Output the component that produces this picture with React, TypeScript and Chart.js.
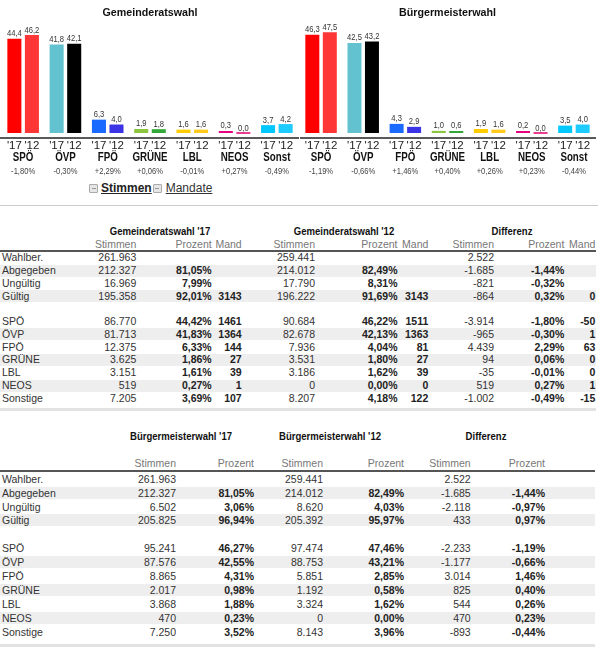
import React, { useEffect, useRef } from "react";
import { Chart, registerables } from "chart.js";

Chart.register(...registerables);

// ---------- chart data ----------
const parties = ["SPÖ", "ÖVP", "FPÖ", "GRÜNE", "LBL", "NEOS", "Sonst"];
const yearLabels = ["'17", "'12"];
const grTitle = "Gemeinderatswahl";
const bmTitle = "Bürgermeisterwahl";
const gr17 = [44.4, 41.8, 6.3, 1.9, 1.6, 0.3, 3.7];
const gr12 = [46.2, 42.1, 4.0, 1.8, 1.6, 0.0, 4.2];
const grDiff = ["-1,80%", "-0,30%", "+2,29%", "+0,06%", "-0,01%", "+0,27%", "-0,49%"];
const bm17 = [46.3, 42.5, 4.3, 1.0, 1.9, 0.2, 3.5];
const bm12 = [47.5, 43.2, 2.9, 0.6, 1.6, 0.0, 4.0];
const bmDiff = ["-1,19%", "-0,66%", "+1,46%", "+0,40%", "+0,26%", "+0,23%", "-0,44%"];
const colors17 = ["#ff0000", "#63c2cf", "#1a6aff", "#8cc63f", "#ffcc00", "#e6007e", "#00c8ff"];
const colors12 = ["#ff3636", "#000000", "#3a34e6", "#31a838", "#ffc91e", "#ea3d92", "#1ecbff"];

// ---------- table data ----------
const rowLabels = ["Wahlber.", "Abgegeben", "Ungültig", "Gültig"];
const partyRows = ["SPÖ", "ÖVP", "FPÖ", "GRÜNE", "LBL", "NEOS", "Sonstige"];
const subStimmen = "Stimmen";
const subProzent = "Prozent";
const subMand = "Mand";
const linkStimmen = "Stimmen";
const linkMandate = "Mandate";

const t1Headers = ["Gemeinderatswahl '17", "Gemeinderatswahl '12", "Differenz"];
const gr17Stimmen = ["261.963", "212.327", "16.969", "195.358", "86.770", "81.713", "12.375", "3.625", "3.151", "519", "7.205"];
const gr17Prozent = ["", "81,05%", "7,99%", "92,01%", "44,42%", "41,83%", "6,33%", "1,86%", "1,61%", "0,27%", "3,69%"];
const gr17Mand = ["", "", "", "3143", "1461", "1364", "144", "27", "39", "1", "107"];
const gr12Stimmen = ["259.441", "214.012", "17.790", "196.222", "90.684", "82.678", "7.936", "3.531", "3.186", "0", "8.207"];
const gr12Prozent = ["", "82,49%", "8,31%", "91,69%", "46,22%", "42,13%", "4,04%", "1,80%", "1,62%", "0,00%", "4,18%"];
const gr12Mand = ["", "", "", "3143", "1511", "1363", "81", "27", "39", "0", "122"];
const grDiffStimmen = ["2.522", "-1.685", "-821", "-864", "-3.914", "-965", "4.439", "94", "-35", "519", "-1.002"];
const grDiffProzent = ["", "-1,44%", "-0,32%", "0,32%", "-1,80%", "-0,30%", "2,29%", "0,06%", "-0,01%", "0,27%", "-0,49%"];
const grDiffMand = ["", "", "", "0", "-50", "1", "63", "0", "0", "1", "-15"];

const t2Headers = ["Bürgermeisterwahl '17", "Bürgermeisterwahl '12", "Differenz"];
const bm17Stimmen = ["261.963", "212.327", "6.502", "205.825", "95.241", "87.576", "8.865", "2.017", "3.868", "470", "7.250"];
const bm17Prozent = ["", "81,05%", "3,06%", "96,94%", "46,27%", "42,55%", "4,31%", "0,98%", "1,88%", "0,23%", "3,52%"];
const bm12Stimmen = ["259.441", "214.012", "8.620", "205.392", "97.474", "88.753", "5.851", "1.192", "3.324", "0", "8.143"];
const bm12Prozent = ["", "82,49%", "4,03%", "95,97%", "47,46%", "43,21%", "2,85%", "0,58%", "1,62%", "0,00%", "3,96%"];
const bmDiffStimmen = ["2.522", "-1.685", "-2.118", "433", "-2.233", "-1.177", "3.014", "825", "544", "470", "-893"];
const bmDiffProzent = ["", "-1,44%", "-0,97%", "0,97%", "-1,19%", "-0,66%", "1,46%", "0,40%", "0,26%", "0,23%", "-0,44%"];

const FONT = "'Liberation Sans', Arial, sans-serif";

function drawText(ctx: CanvasRenderingContext2D, text: string, x: number, y: number, font: string, color: string, sx: number, baseline: CanvasTextBaseline = "middle") {
  ctx.save();
  ctx.font = font;
  ctx.fillStyle = color;
  ctx.textAlign = "center";
  ctx.textBaseline = baseline;
  ctx.translate(x, y);
  ctx.scale(sx, 1);
  ctx.fillText(text, 0, 0);
  ctx.restore();
}

function makeLabelPlugin(title: string, diffs: string[]) {
  return {
    id: "panelLabels",
    afterDatasetsDraw(chart: any) {
      const ctx: CanvasRenderingContext2D = chart.ctx;
      const area = chart.chartArea;
      const bottom = area.bottom;
      drawText(ctx, title, (area.left + area.right) / 2, 12.5, `bold 11.5px ${FONT}`, "#111", 0.93);
      ctx.save();
      ctx.strokeStyle = "#222";
      ctx.lineWidth = 1.5;
      ctx.beginPath();
      ctx.moveTo(area.left - 2, bottom);
      ctx.lineTo(area.right + 1, bottom);
      ctx.stroke();
      ctx.restore();
      chart.data.datasets.forEach((ds: any, di: number) => {
        const meta = chart.getDatasetMeta(di);
        meta.data.forEach((bar: any, i: number) => {
          const v = ds.data[i] as number;
          drawText(ctx, v.toFixed(1).replace(".", ","), bar.x, bar.y - 2.5, `9.5px ${FONT}`, "#333", 0.8, "alphabetic");
          drawText(ctx, yearLabels[di], bar.x, bottom + 8, `11.5px ${FONT}`, "#222", 1);
        });
      });
      const m0 = chart.getDatasetMeta(0).data;
      const m1 = chart.getDatasetMeta(1).data;
      parties.forEach((p, i) => {
        const cx = (m0[i].x + m1[i].x) / 2;
        drawText(ctx, p, cx, bottom + 20, `bold 12.5px ${FONT}`, "#111", 0.78);
        drawText(ctx, diffs[i], cx, bottom + 33, `9.5px ${FONT}`, "#444", 0.8);
      });
    },
  };
}

function BarPanel(props: { title: string; v17: number[]; v12: number[]; diffs: string[]; left: number; padL: number; padR: number }) {
  const ref = useRef<HTMLCanvasElement>(null);
  useEffect(() => {
    const chart = new Chart(ref.current as HTMLCanvasElement, {
      type: "bar",
      data: {
        labels: parties,
        datasets: [
          { label: yearLabels[0], data: props.v17, backgroundColor: colors17, categoryPercentage: 0.83, barPercentage: 0.8, minBarLength: 2 },
          { label: yearLabels[1], data: props.v12, backgroundColor: colors12, categoryPercentage: 0.83, barPercentage: 0.8, minBarLength: 2 },
        ],
      },
      options: {
        responsive: false,
        animation: false,
        devicePixelRatio: 1,
        layout: { padding: { top: 27, bottom: 42, left: props.padL, right: props.padR } },
        plugins: { legend: { display: false }, tooltip: { enabled: false }, title: { display: false } },
        scales: {
          x: { display: false },
          y: { display: false, min: -2.36, max: 50 },
        },
      },
      plugins: [makeLabelPlugin(props.title, props.diffs)],
    } as any);
    return () => chart.destroy();
  }, []);
  return (
    <canvas
      ref={ref}
      width={300}
      height={180}
      style={{ position: "absolute", left: props.left, top: 0, width: 300, height: 180 }}
    />
  );
}

type TP = { x: number; y: number; align?: "left" | "right" | "center"; bold?: boolean; color?: string; size?: number; sx?: number; underline?: boolean; children: React.ReactNode };
function T({ x, y, align = "right", bold = false, color = "#333", size = 10.5, sx = 1, underline = false, children }: TP) {
  const style: React.CSSProperties = {
    position: "absolute",
    top: y - 7,
    height: 14,
    lineHeight: "14px",
    fontSize: size,
    fontWeight: bold ? "bold" : "normal",
    color,
    fontFamily: FONT,
    whiteSpace: "nowrap",
    textDecoration: underline ? "underline" : "none",
  };
  if (align === "right") {
    style.right = 600 - x;
    if (sx !== 1) { style.transform = `scaleX(${sx})`; style.transformOrigin = "right center"; }
  } else if (align === "left") {
    style.left = x;
    if (sx !== 1) { style.transform = `scaleX(${sx})`; style.transformOrigin = "left center"; }
  } else {
    style.left = x;
    style.transform = `translateX(-50%) scaleX(${sx})`;
  }
  return <div style={style}>{children}</div>;
}

function Box({ x, y, w, h, bg }: { x: number; y: number; w: number; h: number; bg: string }) {
  return <div style={{ position: "absolute", left: x, top: y, width: w, height: h, background: bg }} />;
}

const shaded = [false, true, false, true, false, true, false, true, false, true, false];

function rowYs(start: number, pitch: number, partyStart: number, partyPitch: number) {
  const ys: number[] = [];
  for (let i = 0; i < rowLabels.length; i++) ys.push(start + i * pitch);
  for (let j = 0; j < partyRows.length; j++) ys.push(partyStart + j * partyPitch);
  return ys;
}

function Table(props: {
  headers: string[]; headerX: number[]; headerY: number;
  subs: string[]; subY: number;
  cols: string[][]; rights: number[]; bolds: boolean[];
  ys: number[]; bandOff: number; bandH: number; lineY: number; bottomY: number; width: number;
}) {
  const labels = [...rowLabels, ...partyRows];
  const els: React.ReactNode[] = [];
  props.ys.forEach((y, i) => {
    if (shaded[i]) els.push(<Box key={"b" + i} x={0} y={y - props.bandOff} w={props.width} h={props.bandH} bg="#eeeeee" />);
  });
  props.headers.forEach((h, i) => {
    els.push(<T key={"h" + i} x={props.headerX[i]} y={props.headerY} align="center" bold size={11.5} sx={0.83} color="#111">{h}</T>);
  });
  props.subs.forEach((s, i) => {
    els.push(<T key={"s" + i} x={props.rights[i]} y={props.subY} color="#777">{s}</T>);
  });
  els.push(<Box key="hl" x={0} y={props.lineY - 1} w={props.width} h={2} bg="#555" />);
  els.push(<Box key="bl" x={0} y={props.bottomY - 1.5} w={props.width} h={3} bg="#e2e2e2" />);
  props.ys.forEach((y, i) => {
    els.push(<T key={"l" + i} x={2} y={y} align="left" color="#333">{labels[i]}</T>);
    props.cols.forEach((col, c) => {
      if (col[i]) els.push(<T key={`c${c}_${i}`} x={props.rights[c]} y={y} bold={props.bolds[c]} color={props.bolds[c] ? "#222" : "#333"}>{col[i]}</T>);
    });
  });
  return <>{els}</>;
}

function Icon({ x, y }: { x: number; y: number }) {
  return (
    <div style={{ position: "absolute", left: x, top: y - 4, width: 7, height: 7, border: "1px solid #aaa", background: "#e6e6e6", borderRadius: 1 }}>
      <div style={{ position: "absolute", left: 1.5, top: 3, width: 4, height: 1, background: "#999" }} />
    </div>
  );
}

export default function App() {
  const t1Rights = [136.3, 211.7, 241.7, 315, 397.5, 428.3, 494, 564.3, 595.3];
  const t2Rights = [176, 254, 323, 404, 470.7, 545];
  return (
    <div style={{ position: "absolute", left: 0, top: 0, width: 600, height: 653, background: "#fff", overflow: "hidden" }}>
      <BarPanel title={grTitle} v17={gr17} v12={gr12} diffs={grDiff} left={0} padL={2} padR={2} />
      <BarPanel title={bmTitle} v17={bm17} v12={bm12} diffs={bmDiff} left={300} padL={0} padR={5} />

      <Icon x={89} y={188} />
      <T x={101} y={188} align="left" bold size={12} underline color="#222">{linkStimmen}</T>
      <Icon x={152.7} y={188} />
      <T x={165.7} y={188} align="left" size={12} underline color="#333">{linkMandate}</T>
      <Box x={0} y={205} w={598} h={1} bg="#cccccc" />

      <Table
        headers={t1Headers} headerX={[159.7, 344, 512.3]} headerY={230.7}
        subs={[subStimmen, subProzent, subMand, subStimmen, subProzent, subMand, subStimmen, subProzent, subMand]} subY={244}
        cols={[gr17Stimmen, gr17Prozent, gr17Mand, gr12Stimmen, gr12Prozent, gr12Mand, grDiffStimmen, grDiffProzent, grDiffMand]}
        rights={t1Rights} bolds={[false, true, true, false, true, true, false, true, true]}
        ys={rowYs(257.3, 12.85, 321, 12.8)} bandOff={5.5} bandH={12} lineY={251} bottomY={409.3} width={596}
      />
      <Table
        headers={t2Headers} headerX={[180.5, 329.5, 486]} headerY={435.7}
        subs={[subStimmen, subProzent, subStimmen, subProzent, subStimmen, subProzent]} subY={463.3}
        cols={[bm17Stimmen, bm17Prozent, bm12Stimmen, bm12Prozent, bmDiffStimmen, bmDiffProzent]}
        rights={t2Rights} bolds={[false, true, false, true, false, true]}
        ys={rowYs(478.9, 13.8, 548.3, 14)} bandOff={6.2} bandH={12.4} lineY={471} bottomY={645} width={595}
      />
    </div>
  );
}
